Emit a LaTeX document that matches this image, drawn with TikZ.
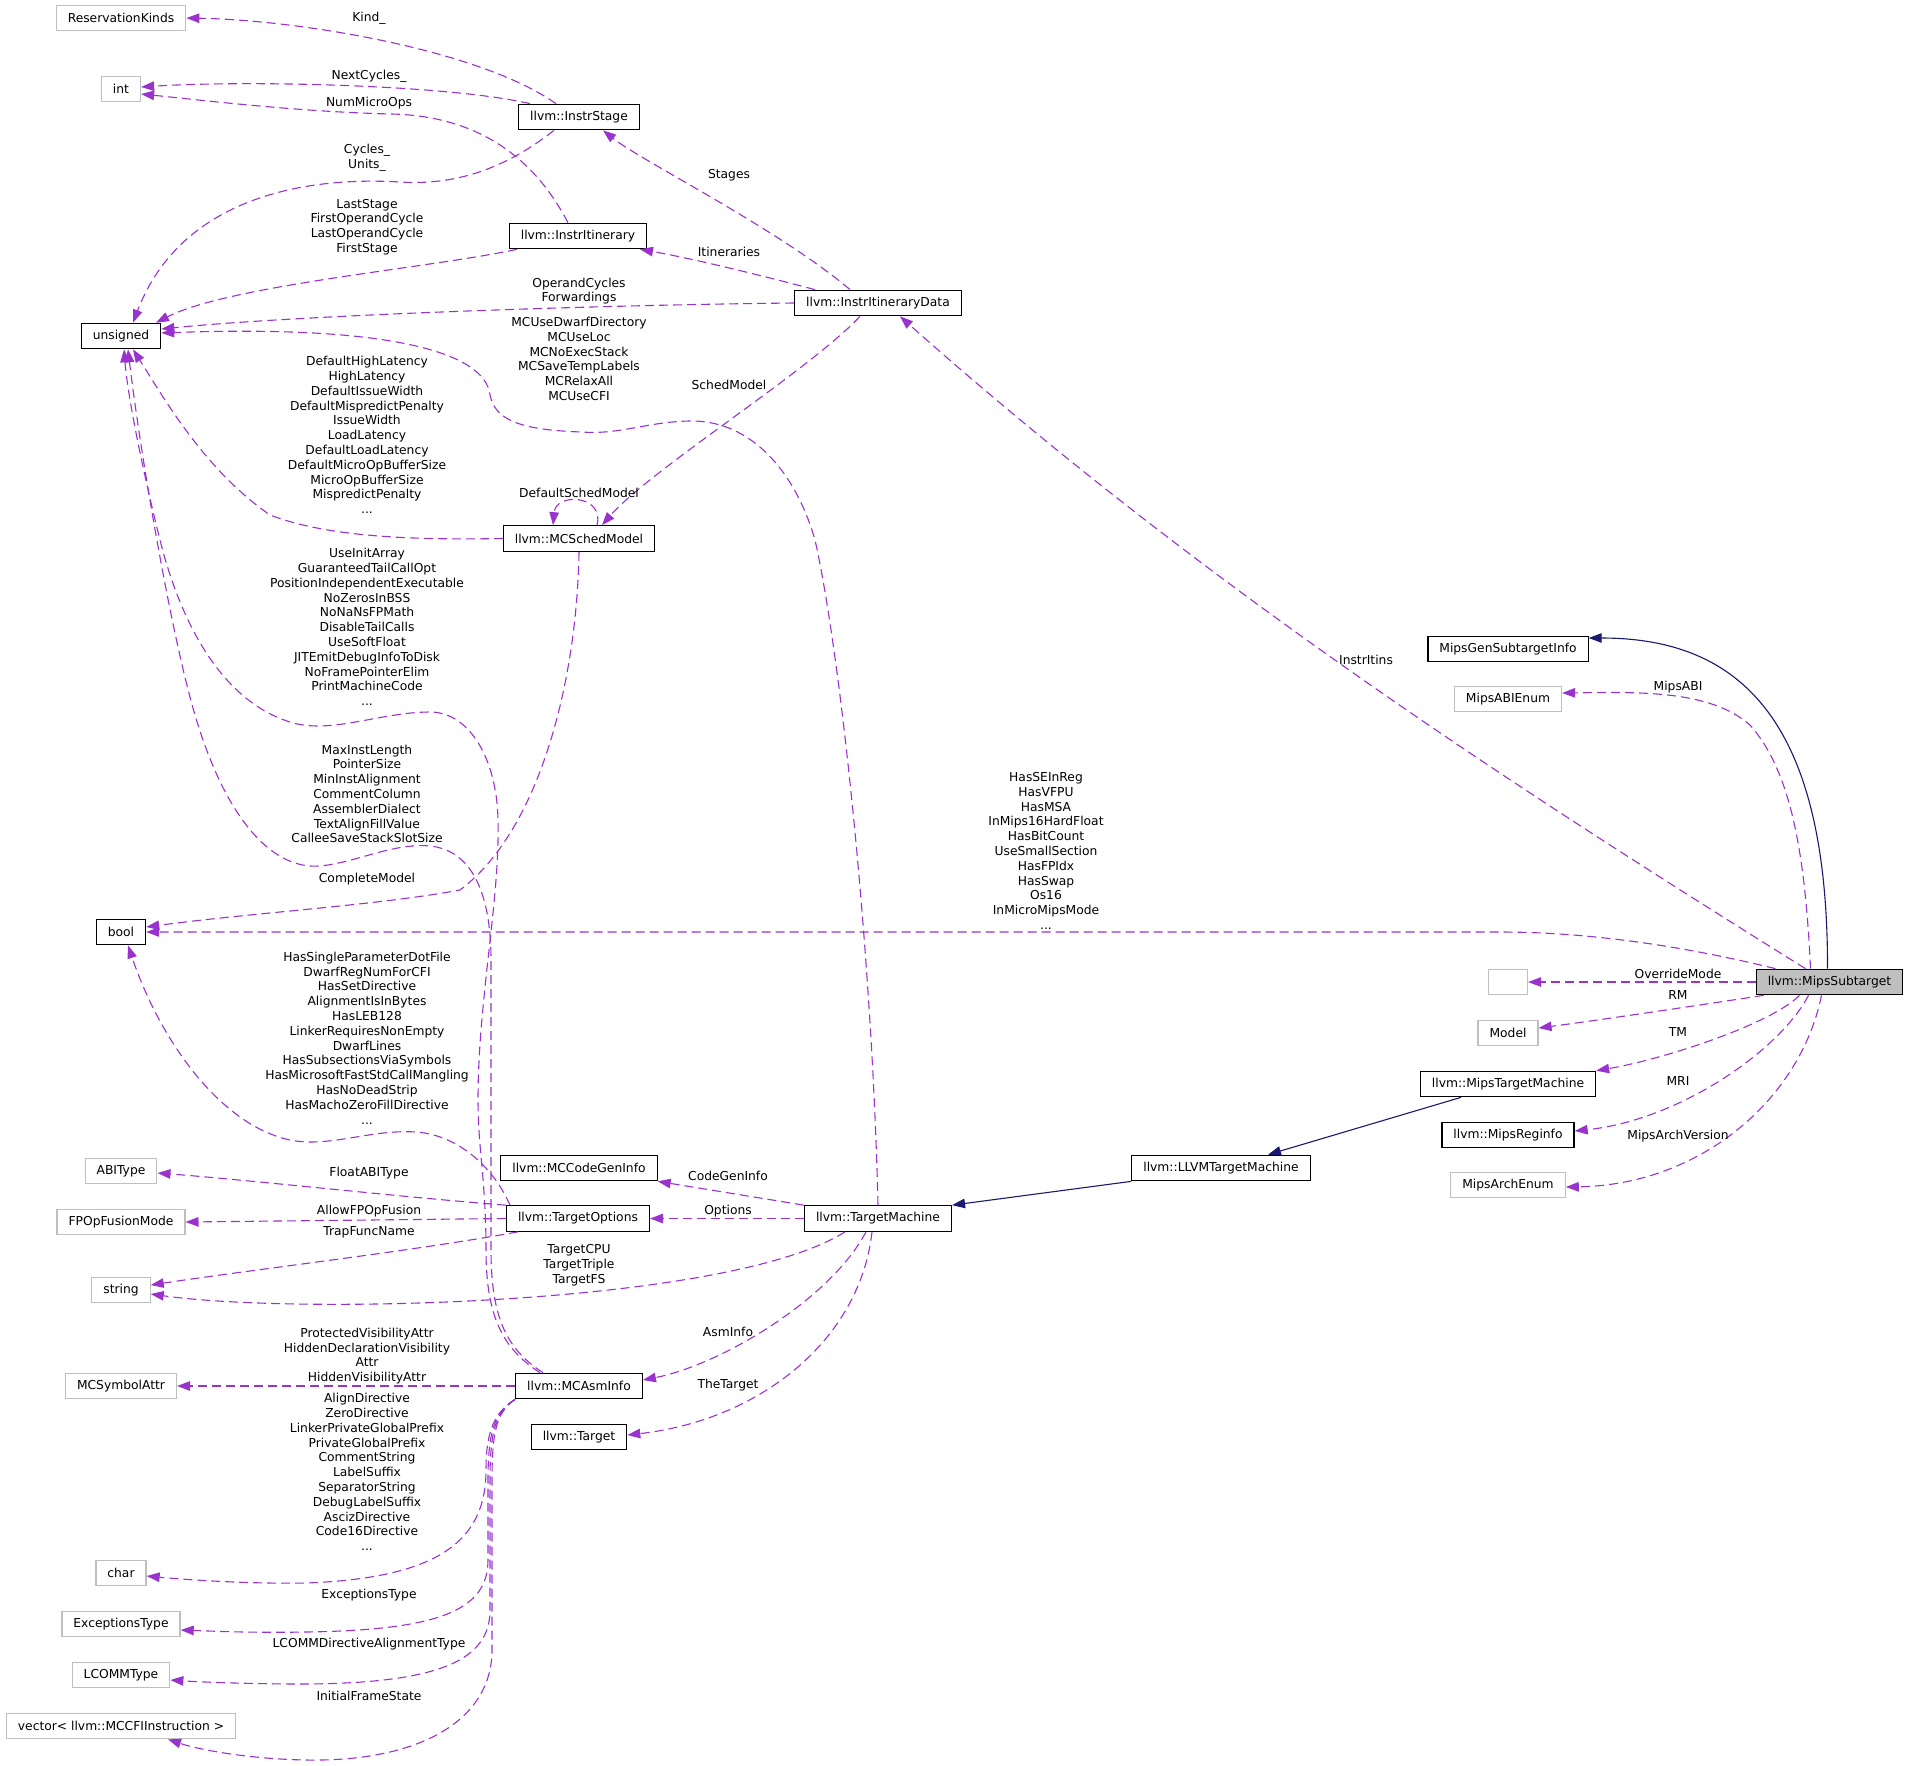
\documentclass[tikz,border=0pt]{standalone}
\usepackage{fontspec}
\setmainfont{DejaVu Sans}
\usepackage{tikz}
\usetikzlibrary{arrows.meta}

\definecolor{edgepurple}{HTML}{9A32CD}
\definecolor{inhblue}{HTML}{191970}
\definecolor{boxgrey}{HTML}{BFBFBF}

\begin{document}
\begin{tikzpicture}[x=1pt,y=-1pt]
\tikzstyle{every node}+=[font=\fontsize{12.3}{14.8}\selectfont]
\tikzstyle{classbox}=[draw=black, line width=1.2pt, inner xsep=11.5pt, inner ysep=0pt, minimum height=25.5pt]
\tikzstyle{extbox}=[classbox, draw=boxgrey]
\tikzstyle{focusbox}=[classbox, fill=boxgrey]
\tikzstyle{member}=[edgepurple, line width=1.1pt, dash pattern=on 9pt off 5pt, -{Triangle[length=13pt,width=9.5pt]}]
\tikzstyle{inherit}=[inhblue, line width=1.1pt, -{Triangle[length=13pt,width=9.5pt]}]
\tikzstyle{lbl}=[inner sep=0pt, align=center]
\useasboundingbox (0,0) rectangle (1909,1765);

% left column
\node[extbox] (reskinds) at (121,18) {ReservationKinds};
\node[extbox] (int) at (121,89) {int};
\node[classbox] (unsig) at (121,336) {unsigned};
\node[classbox] (bool) at (121,932) {bool};
\node[extbox] (abitype) at (121,1171) {ABIType};
\node[extbox] (fpop) at (121,1222) {FPOpFusionMode};
\node[extbox] (string) at (121,1290) {string};
\node[extbox] (symattr) at (121,1386) {MCSymbolAttr};
\node[extbox] (char) at (121,1573) {char};
\node[extbox] (exctype) at (121,1624) {ExceptionsType};
\node[extbox] (lcomm) at (121,1675) {LCOMMType};
\node[extbox] (vec) at (121,1726) {vector< llvm::MCCFIInstruction >};

% middle columns
\node[classbox] (stage) at (579,117) {llvm::InstrStage};
\node[classbox] (itin) at (578,236) {llvm::InstrItinerary};
\node[classbox] (sched) at (579,538.5) {llvm::MCSchedModel};
\node[classbox] (codegen) at (579,1168) {llvm::MCCodeGenInfo};
\node[classbox] (topts) at (578,1218.5) {llvm::TargetOptions};
\node[classbox] (asminfo) at (579,1386) {llvm::MCAsmInfo};
\node[classbox] (target) at (579,1437) {llvm::Target};
\node[classbox] (iid) at (878,303) {llvm::InstrItineraryData};
\node[classbox] (tm) at (878,1218.5) {llvm::TargetMachine};
\node[classbox] (llvmtm) at (1221,1168) {llvm::LLVMTargetMachine};

% right columns
\node[classbox] (gensti) at (1508,649) {MipsGenSubtargetInfo};
\node[extbox] (abienum) at (1508,699) {MipsABIEnum};
\node[extbox, minimum width=39pt] (empty) at (1508,982) {};
\node[extbox] (model) at (1508,1033) {Model};
\node[classbox] (mipstm) at (1508,1084) {llvm::MipsTargetMachine};
\node[classbox] (reginfo) at (1508,1135) {llvm::MipsReginfo};
\node[extbox] (archenum) at (1508,1185) {MipsArchEnum};
\node[focusbox] (subtarget) at (1829.5,982) {llvm::MipsSubtarget};

% InstrStage, InstrItinerary, InstrItineraryData
\draw[member] ([xshift=-23pt]stage.north) .. controls (480,50) and (300,20) .. (reskinds.east);
\draw[member] ([xshift=-49pt]stage.north) .. controls (450,85) and (250,80) .. ([yshift=2pt]int.east);
\draw[member] ([xshift=-10pt]itin.north) .. controls (530,150) and (470,116) .. (392,114) .. controls (300,112) and (200,100) .. ([yshift=-5pt]int.east);
\draw[member] ([xshift=-25pt]stage.south) .. controls (510,165) and (460,186) .. (400,182) .. controls (300,176) and (180,200) .. ([xshift=12pt]unsig.north);
\draw[member] ([xshift=-61pt]itin.south) .. controls (430,268) and (230,285) .. ([xshift=35pt]unsig.north);
\draw[member] ([xshift=-28pt]iid.north) .. controls (780,230) and (640,160) .. ([xshift=24pt]stage.south);
\draw[member] ([xshift=-63pt]iid.north) .. controls (760,275) and (690,258) .. ([xshift=62pt]itin.south);
\draw[member] (iid.west) .. controls (600,305) and (300,315) .. ([yshift=7pt]unsig.east);
\draw[member] ([xshift=-18pt]iid.south) .. controls (810,370) and (650,470) .. ([xshift=23pt]sched.north);

% MCSchedModel
\draw[member] ([xshift=18pt]sched.north) .. controls (605,495) and (556,492) .. ([xshift=-26pt]sched.north);
\draw[member] (sched.west) .. controls (420,540) and (330,538) .. (270,515) .. controls (205,470) and (165,400) .. ([xshift=12pt]unsig.south);
\draw[member] (sched.south) .. controls (577,680) and (540,830) .. (460,890) .. controls (380,905) and (250,913) .. ([yshift=5pt]bool.east);

% TargetMachine
\draw[member] (tm.north) .. controls (872,950) and (840,650) .. (815,540) .. controls (795,470) and (750,421) .. (692,421) .. controls (650,421) and (620,435) .. (582,432) .. controls (520,430) and (495,420) .. (490,395) .. controls (485,350) and (380,325) .. ([yshift=3pt]unsig.east);
\draw[member] (tm.north west) -- (codegen.south east);
\draw[member] (tm.west) -- (topts.east);
\draw[member] ([xshift=-33pt]tm.south) .. controls (730,1305) and (300,1315) .. ([yshift=-4pt]string.east);
\draw[member] ([xshift=-12pt]tm.south) .. controls (830,1300) and (720,1365) .. ([yshift=6pt]asminfo.east);
\draw[member] ([xshift=-6pt]tm.south) .. controls (860,1340) and (760,1420) .. ([yshift=2pt]target.east);

% TargetOptions
\draw[member] ([xshift=4pt]topts.north west) .. controls (495,1170) and (460,1135) .. (416,1132) .. controls (370,1129) and (330,1148) .. (290,1140) .. controls (220,1125) and (160,1040) .. ([xshift=7pt]bool.south);
\draw[member] (topts.north west) .. controls (400,1197) and (250,1180) .. ([yshift=-2pt]abitype.east);
\draw[member] (topts.west) -- (fpop.east);
\draw[member] ([xshift=12pt]topts.south west) .. controls (420,1250) and (250,1270) .. ([yshift=5pt]string.east);

% MCAsmInfo
\draw[member] ([xshift=-39pt]asminfo.north) .. controls (505,1350) and (486,1320) .. (486,1250) .. controls (486,1180) and (478,1150) .. (478,1100) .. controls (478,1000) and (500,900) .. (498,820) .. controls (497,760) and (470,712) .. (430,712) .. controls (380,712) and (330,735) .. (290,722) .. controls (220,700) and (180,620) .. (160,540) .. controls (145,480) and (128,400) .. ([xshift=3pt]unsig.south);
\draw[member] ([xshift=-36pt]asminfo.north) .. controls (508,1350) and (491,1320) .. (491,1250) -- (491,960) .. controls (491,890) and (470,850) .. (430,846) .. controls (390,842) and (345,868) .. (310,866) .. controls (260,862) and (220,800) .. (195,715) .. controls (170,630) and (140,450) .. ([xshift=7pt]unsig.south);
\draw[member] (asminfo.west) -- (symattr.east);
\draw[member] (asminfo.south west) .. controls (495,1412) and (486,1430) .. (486,1470) .. controls (486,1540) and (440,1578) .. (306,1583) .. controls (250,1584) and (190,1580) .. ([yshift=-3pt]char.east);
\draw[member] (asminfo.south west) .. controls (495,1412) and (488,1430) .. (488,1480) -- (488,1560) .. controls (488,1610) and (440,1630) .. (306,1632) .. controls (250,1633) and (210,1631) .. ([yshift=-6pt]exctype.east);
\draw[member] (asminfo.south west) .. controls (496,1412) and (490,1430) .. (490,1480) -- (490,1610) .. controls (490,1660) and (440,1683) .. (306,1684) .. controls (250,1684) and (200,1682) .. ([yshift=-5pt]lcomm.east);
\draw[member] (asminfo.south west) .. controls (497,1412) and (492,1430) .. (492,1480) -- (492,1650) .. controls (492,1720) and (420,1762) .. (306,1760) .. controls (250,1759) and (200,1750) .. ([xshift=47pt]vec.south);

% MipsSubtarget
\draw[inherit] ([xshift=-2pt]subtarget.north) .. controls (1828,720) and (1740,638) .. ([yshift=11pt]gensti.east);
\draw[member] ([xshift=-19pt]subtarget.north) .. controls (1805,850) and (1790,770) .. (1750,725) .. controls (1710,690) and (1640,692) .. ([yshift=6pt]abienum.east);
\draw[member] ([xshift=-24pt]subtarget.north) .. controls (1506,782) and (1200,583) .. ([xshift=22pt]iid.south);
\draw[member] ([xshift=-54pt]subtarget.north) .. controls (1700,950) and (1600,932) .. (1500,932) -- (bool.east);
\draw[member] (subtarget.west) -- (empty.east);
\draw[member] ([xshift=8pt]subtarget.south west) .. controls (1700,1005) and (1600,1020) .. ([yshift=5pt]model.east);
\draw[member] ([xshift=-30pt]subtarget.south) .. controls (1770,1025) and (1660,1060) .. (mipstm.north east);
\draw[member] ([xshift=-21pt]subtarget.south) .. controls (1780,1050) and (1680,1120) .. ([yshift=4pt]reginfo.east);
\draw[member] ([xshift=-8pt]subtarget.south) .. controls (1800,1100) and (1700,1185) .. ([yshift=-2pt]archenum.east);
\draw[inherit] ([xshift=-47pt]mipstm.south) -- ([xshift=47pt]llvmtm.north);
\draw[inherit] (llvmtm.south west) -- (tm.north east);

% edge labels
\node[lbl] (l-kind) at (369,18) {Kind\_};
\node[lbl] (l-next) at (369,76) {NextCycles\_};
\node[lbl] (l-numops) at (369,103) {NumMicroOps};
\node[lbl] (l-cycles) at (367,158) {Cycles\_\\Units\_};
\node[lbl] (l-stages) at (729,175) {Stages};
\node[lbl] (l-last) at (367,227) {LastStage\\FirstOperandCycle\\LastOperandCycle\\FirstStage};
\node[lbl] (l-itins) at (729,252) {Itineraries};
\node[lbl] (l-opcyc) at (579,291) {OperandCycles\\Forwardings};
\node[lbl] (l-mcuse) at (579,359) {MCUseDwarfDirectory\\MCUseLoc\\MCNoExecStack\\MCSaveTempLabels\\MCRelaxAll\\MCUseCFI};
\node[lbl] (l-schedm) at (729,385) {SchedModel};
\node[lbl] (l-defhigh) at (367,435) {DefaultHighLatency\\HighLatency\\DefaultIssueWidth\\DefaultMispredictPenalty\\IssueWidth\\LoadLatency\\DefaultLoadLatency\\DefaultMicroOpBufferSize\\MicroOpBufferSize\\MispredictPenalty\\...};
\node[lbl] (l-defsched) at (579,493) {DefaultSchedModel};
\node[lbl] (l-useinit) at (367,627) {UseInitArray\\GuaranteedTailCallOpt\\PositionIndependentExecutable\\NoZerosInBSS\\NoNaNsFPMath\\DisableTailCalls\\UseSoftFloat\\JITEmitDebugInfoToDisk\\NoFramePointerElim\\PrintMachineCode\\...};
\node[lbl] (l-maxinst) at (367,794) {MaxInstLength\\PointerSize\\MinInstAlignment\\CommentColumn\\AssemblerDialect\\TextAlignFillValue\\CalleeSaveStackSlotSize};
\node[lbl] (l-complete) at (367,879) {CompleteModel};
\node[lbl] (l-hassingle) at (367,1038) {HasSingleParameterDotFile\\DwarfRegNumForCFI\\HasSetDirective\\AlignmentIsInBytes\\HasLEB128\\LinkerRequiresNonEmpty\\DwarfLines\\HasSubsectionsViaSymbols\\HasMicrosoftFastStdCallMangling\\HasNoDeadStrip\\HasMachoZeroFillDirective\\...};
\node[lbl] (l-instritins) at (1366,660) {InstrItins};
\node[lbl] (l-mipsabi) at (1678,687) {MipsABI};
\node[lbl] (l-hasse) at (1046,851) {HasSEInReg\\HasVFPU\\HasMSA\\InMips16HardFloat\\HasBitCount\\UseSmallSection\\HasFPIdx\\HasSwap\\Os16\\InMicroMipsMode\\...};
\node[lbl] (l-override) at (1678,974) {OverrideMode};
\node[lbl] (l-rm) at (1678,995) {RM};
\node[lbl] (l-tm) at (1678,1032) {TM};
\node[lbl] (l-mri) at (1678,1081) {MRI};
\node[lbl] (l-archver) at (1678,1136) {MipsArchVersion};
\node[lbl] (l-floatabi) at (369,1173) {FloatABIType};
\node[lbl] (l-codegen) at (728,1176) {CodeGenInfo};
\node[lbl] (l-allowfp) at (369,1211) {AllowFPOpFusion};
\node[lbl] (l-options) at (728,1211) {Options};
\node[lbl] (l-trap) at (369,1232) {TrapFuncName};
\node[lbl] (l-tcpu) at (579,1265) {TargetCPU\\TargetTriple\\TargetFS};
\node[lbl] (l-asminfo) at (728,1332) {AsmInfo};
\node[lbl] (l-protvis) at (367,1356) {ProtectedVisibilityAttr\\HiddenDeclarationVisibility\\Attr\\HiddenVisibilityAttr};
\node[lbl] (l-thetarget) at (728,1385) {TheTarget};
\node[lbl] (l-align) at (367,1472) {AlignDirective\\ZeroDirective\\LinkerPrivateGlobalPrefix\\PrivateGlobalPrefix\\CommentString\\LabelSuffix\\SeparatorString\\DebugLabelSuffix\\AscizDirective\\Code16Directive\\...};
\node[lbl] (l-exctype) at (369,1595) {ExceptionsType};
\node[lbl] (l-lcomm) at (369,1644) {LCOMMDirectiveAlignmentType};
\node[lbl] (l-initframe) at (369,1696) {InitialFrameState};
\end{tikzpicture}
\end{document}
